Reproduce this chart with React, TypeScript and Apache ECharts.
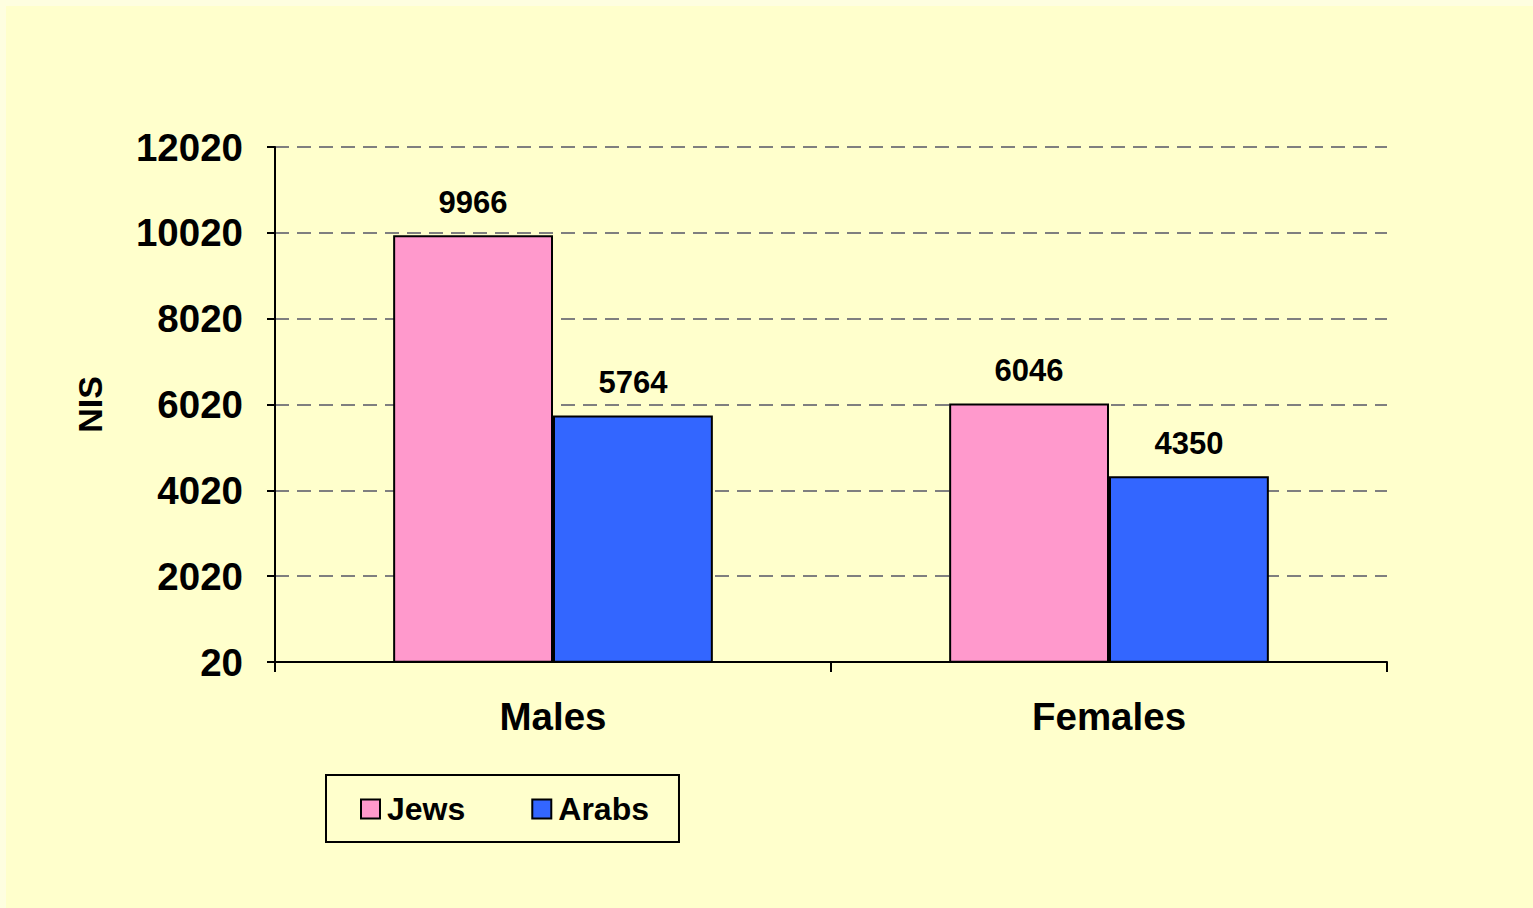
import React, { useEffect, useRef } from "react";
import * as echarts from "echarts";

const categories = ["Males", "Females"];
const jews = [9966, 6046];
const arabs = [5764, 4350];
const seriesNames = ["Jews", "Arabs"];
const yMin = 20;
const yMax = 12020;
const yStep = 2000;

const FONT = '"Liberation Sans", Arial, sans-serif';

export default function App() {
  const ref = useRef<HTMLDivElement>(null);
  useEffect(() => {
    if (!ref.current) return;
    const chart = echarts.init(ref.current, undefined, { renderer: "svg" });
    const labelStyle = {
      show: true,
      position: "top" as const,
      distance: 17,
      color: "#000",
      fontFamily: FONT,
      fontWeight: "bold" as const,
      fontSize: 31,
    };
    chart.setOption({
      animation: false,
      backgroundColor: "#FFFFCC",
      textStyle: { fontFamily: FONT },
      grid: { left: 269, right: 146, top: 141, bottom: 246 },
      legend: {
        left: 320,
        top: 769,
        orient: "horizontal",
        data: seriesNames,
        icon: "rect",
        itemWidth: 19,
        itemHeight: 19,
        itemGap: 66,
        padding: [18, 30, 17, 34],
        borderColor: "#000",
        borderWidth: 2,
        textStyle: {
          color: "#000",
          fontFamily: FONT,
          fontWeight: "bold",
          fontSize: 32,
          padding: [0, 0, 0, 2],
        },
      },
      xAxis: {
        type: "category",
        data: categories,
        axisLine: { show: true, lineStyle: { color: "#000", width: 2 } },
        axisTick: { show: true, length: 10, lineStyle: { color: "#000", width: 2 } },
        axisLabel: {
          color: "#000",
          fontFamily: FONT,
          fontWeight: "bold",
          fontSize: 38.5,
          margin: 35,
        },
      },
      yAxis: {
        type: "value",
        min: yMin,
        max: yMax,
        interval: yStep,
        name: "NIS",
        nameLocation: "middle",
        nameRotate: 90,
        nameGap: 168,
        nameTextStyle: {
          color: "#000",
          fontFamily: FONT,
          fontWeight: "bold",
          fontSize: 34,
        },
        axisLine: { show: true, lineStyle: { color: "#000", width: 2 } },
        axisTick: { show: true, length: 8, lineStyle: { color: "#000", width: 2 } },
        axisLabel: {
          color: "#000",
          fontFamily: FONT,
          fontWeight: "bold",
          fontSize: 38.5,
          margin: 32,
          formatter: (v: number) => String(v),
        },
        splitLine: {
          show: true,
          lineStyle: { color: "#7F7F7F", width: 2, type: [14, 8] },
        },
      },
      series: [
        {
          name: seriesNames[0],
          type: "bar",
          data: jews,
          barGap: "0%",
          barCategoryGap: "42.5%",
          itemStyle: { color: "#FF99CC", borderColor: "#000", borderWidth: 2 },
          label: labelStyle,
        },
        {
          name: seriesNames[1],
          type: "bar",
          data: arabs,
          barGap: "0%",
          barCategoryGap: "42.5%",
          itemStyle: { color: "#3366FF", borderColor: "#000", borderWidth: 2 },
          label: labelStyle,
        },
      ],
    });
    return () => chart.dispose();
  }, []);
  return (
    <div
      style={{
        position: "fixed",
        left: 0,
        top: 0,
        width: 1533,
        height: 908,
        background: "#FEFEE0",
      }}
    >
      <div
        ref={ref}
        style={{ position: "absolute", left: 6, top: 6, width: 1527, height: 902 }}
      />
    </div>
  );
}
